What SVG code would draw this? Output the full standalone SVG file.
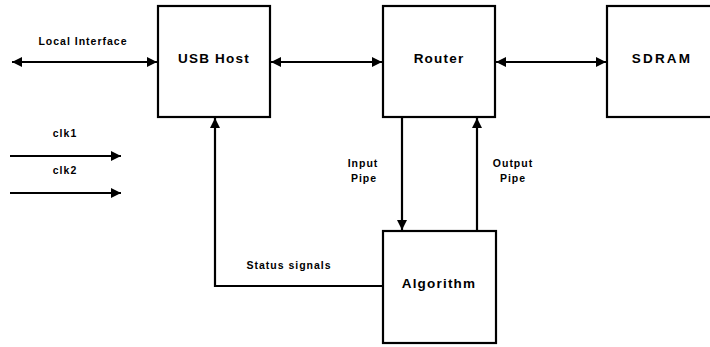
<svg xmlns="http://www.w3.org/2000/svg" width="710" height="347" viewBox="0 0 710 347">
  <defs>
    <marker id="arrow" viewBox="0 0 10 10" refX="10" refY="5" markerWidth="10" markerHeight="10" markerUnits="userSpaceOnUse" orient="auto-start-reverse">
      <path d="M0,0 L10,5 L0,10 z" fill="#000"/>
    </marker>
    <style>
      .box { fill: #fff; stroke: #000; stroke-width: 2.2; }
      .wire { fill: none; stroke: #000; stroke-width: 2.2; }
      .name { font-family: "Liberation Sans", Arial, sans-serif; font-weight: bold; font-size: 13.5px; letter-spacing: 1.2px; text-anchor: middle; fill: #000; }
      .label { font-family: "Liberation Sans", Arial, sans-serif; font-weight: bold; font-size: 10.5px; letter-spacing: 1px; text-anchor: middle; fill: #000; }
    </style>
  </defs>
  <rect width="710" height="347" fill="#fff"/>

  <g id="connectors">
    <line class="wire" x1="12" y1="62" x2="157" y2="62" marker-start="url(#arrow)" marker-end="url(#arrow)"/>
    <line class="wire" x1="271" y1="62" x2="382" y2="62" marker-start="url(#arrow)" marker-end="url(#arrow)"/>
    <line class="wire" x1="496" y1="62" x2="606" y2="62" marker-start="url(#arrow)" marker-end="url(#arrow)"/>
    <line class="wire" x1="10" y1="156" x2="121" y2="156" marker-end="url(#arrow)"/>
    <line class="wire" x1="10" y1="193" x2="121" y2="193" marker-end="url(#arrow)"/>
    <line class="wire" x1="402" y1="118" x2="402" y2="230" marker-end="url(#arrow)"/>
    <line class="wire" x1="477" y1="231" x2="477" y2="118" marker-end="url(#arrow)"/>
    <polyline class="wire" points="383,286 215,286 215,118" marker-end="url(#arrow)"/>
    <text class="label" x="83" y="45">Local Interface</text>
    <text class="label" x="65" y="137">clk1</text>
    <text class="label" x="65" y="174">clk2</text>
    <text class="label" x="363" y="167">Input</text>
    <text class="label" x="364" y="182">Pipe</text>
    <text class="label" x="513" y="167">Output</text>
    <text class="label" x="513" y="182">Pipe</text>
    <text class="label" x="289" y="269">Status signals</text>
  </g>

  <g id="usb-host">
    <rect class="box" x="158" y="6" width="112" height="111"/>
    <text class="name" x="214" y="63">USB Host</text>
  </g>
  <g id="router">
    <rect class="box" x="383" y="6" width="112" height="111"/>
    <text class="name" x="439" y="63">Router</text>
  </g>
  <g id="sdram">
    <rect class="box" x="607" y="6" width="112" height="111"/>
    <text class="name" x="662" y="63" style="letter-spacing:2.2px">SDRAM</text>
  </g>
  <g id="algorithm">
    <rect class="box" x="383" y="231" width="113" height="112"/>
    <text class="name" x="439" y="288">Algorithm</text>
  </g>
</svg>
